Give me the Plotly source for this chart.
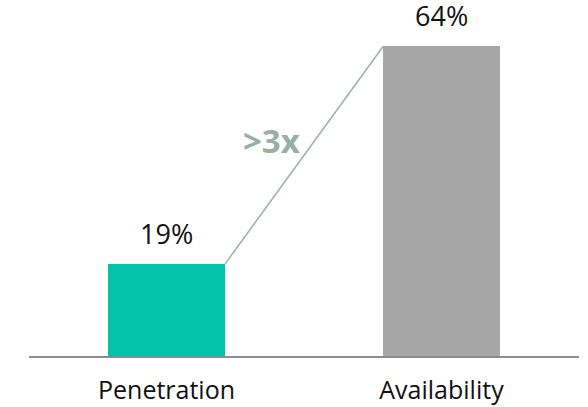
import plotly.graph_objects as go

# Share of households: penetration vs availability (%)
categories = ["Penetration", "Availability"]
values = [19, 64]
bar_colors = ["#00c3a7", "#a6a6a6"]
multiplier_label = ">3x"

x_pos = list(range(len(categories)))
bar_width = 0.425

fig = go.Figure()

fig.add_trace(go.Bar(
    x=x_pos,
    y=values,
    width=bar_width,
    marker=dict(color=bar_colors, line=dict(width=0)),
    hoverinfo="skip",
))

# connector from the top-right corner of the first bar to the top-left of the second
fig.add_trace(go.Scatter(
    x=[x_pos[0] + bar_width / 2, x_pos[1] - bar_width / 2],
    y=[values[0], values[1]],
    mode="lines",
    line=dict(color="#9db4a9", width=1.6),
    hoverinfo="skip",
))

font_family = "'Open Sans', sans-serif"

for xi, v in zip(x_pos, values):
    fig.add_annotation(
        x=xi, y=v, text=f"{v}%", showarrow=False,
        yanchor="bottom", yshift=10,
        font=dict(family=font_family, size=27, color="#111111"),
    )

fig.add_annotation(
    x=0.5, y=(values[0] + values[1]) / 2 + 3, text=f"<b>{multiplier_label}</b>",
    showarrow=False, xanchor="right", xshift=-2,
    font=dict(family=font_family, size=33, color="#97b0a4"),
)

fig.update_layout(
    width=588, height=407,
    margin=dict(l=29, r=9, t=0, b=51),
    paper_bgcolor="white", plot_bgcolor="white",
    showlegend=False,
    bargap=0,
    xaxis=dict(
        range=[-0.5, 1.5],
        tickvals=x_pos, ticktext=categories,
        showline=True, linecolor="#8c8c8c", linewidth=2,
        showgrid=False, zeroline=False,
        ticks="outside", ticklen=11, tickcolor="rgba(0,0,0,0)",
        tickfont=dict(family=font_family, size=25, color="#111111"),
        automargin=False,
        fixedrange=True,
    ),
    yaxis=dict(
        range=[0, 73.6],
        visible=False, showgrid=False, zeroline=False,
        automargin=False,
        fixedrange=True,
    ),
)

fig.write_html("out.html")
